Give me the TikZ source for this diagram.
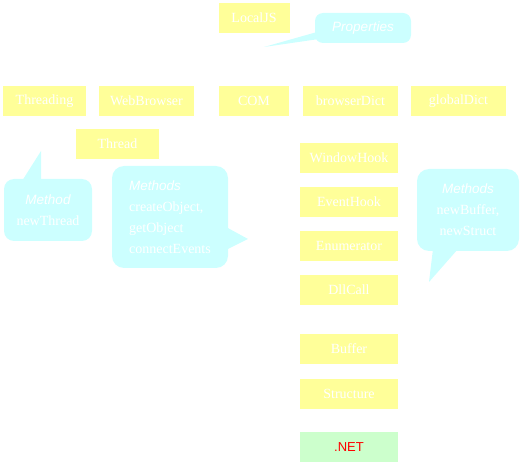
\documentclass[tikz,border=0pt]{standalone}
\usepackage{fontspec}
\setmainfont{Liberation Serif}
\newfontfamily\notesf{Liberation Sans}
\usepackage{tikz}
\usetikzlibrary{positioning}
\definecolor{jsyellow}{HTML}{FFFF99}
\definecolor{jscyan}{HTML}{CCFFFF}
\definecolor{jsgreen}{HTML}{CCFFCC}
\definecolor{jsred}{HTML}{FF0000}
\newcommand{\notehead}[1]{{\notesf\itshape\fontsize{13.5}{21}\selectfont #1}}

\begin{document}
\begin{tikzpicture}[x=1pt, y=-1pt,
  modbox/.style={rectangle, fill=jsyellow, text=white, minimum height=30pt,
    inner sep=0pt, outer sep=0pt, font=\fontsize{14}{17}\selectfont},
  netbox/.style={modbox, fill=jsgreen, text=jsred, font=\notesf\fontsize{13}{16}\selectfont},
  notebox/.style={rectangle, fill=jscyan, text=white, rounded corners=12pt,
    inner sep=0pt, outer sep=0pt, font=\fontsize{14}{21}\selectfont},
  pointer/.style={fill=jscyan},
  node distance=14pt and 13pt,
]
  \useasboundingbox (0,0) rectangle (523,476);

  \node[modbox, minimum width=83pt] (threading) at (44.5,101) {Threading};
  \node[modbox, minimum width=95pt, right=of threading] (webbrowser) {WebBrowser};
  \node[modbox, minimum width=70pt, right=25pt of webbrowser] (com) {COM};
  \node[modbox, minimum width=95pt, right=14pt of com] (browserdict) {browserDict};
  \node[modbox, minimum width=95pt, right=of browserdict] (globaldict) {globalDict};
  \node[modbox, minimum width=71pt, above=53pt of com] (localjs) {LocalJS};
  \node[modbox, minimum width=83pt] (thread) at (117.5,144) {Thread};

  \node[modbox, minimum width=98pt] (windowhook) at (349,158) {WindowHook};
  \node[modbox, minimum width=98pt, below=of windowhook] (eventhook) {EventHook};
  \node[modbox, minimum width=98pt, below=of eventhook] (enumerator) {Enumerator};
  \node[modbox, minimum width=98pt, below=of enumerator] (dllcall) {DllCall};
  \node[modbox, minimum width=98pt, below=29pt of dllcall] (buffer) {Buffer};
  \node[modbox, minimum width=98pt, below=15pt of buffer] (structure) {Structure};
  \node[netbox, minimum width=98pt, below=23pt of structure] (dotnet) {.NET};

  \node[notebox, rounded corners=8pt, minimum width=96pt, minimum height=30pt]
    (props) at (363,28) {\notehead{Properties}};
  \coordinate (proptip) at (264,47);
  \fill[pointer] ([xshift=2pt,yshift=-4pt]props.west) -- (proptip)
    -- ([xshift=4pt,yshift=-11pt]props.west) -- cycle;

  \node[notebox, rounded corners=10pt, minimum width=88pt, minimum height=62pt, align=center]
    (newthread) at (48,210) {\notehead{Method}\\newThread};
  \coordinate (threadtip) at (41,151);
  \fill[pointer] ([xshift=-26pt,yshift=-2pt]newthread.north) -- (threadtip)
    -- ([xshift=-7pt,yshift=-2pt]newthread.north) -- cycle;

  \node[notebox, minimum width=116pt, minimum height=102pt, align=left]
    (comnote) at (170,217) {\notehead{Methods}\\createObject,\\getObject\\connectEvents};
  \coordinate (comtip) at (248,239);
  \fill[pointer] ([xshift=-2pt,yshift=-10pt]comnote.east) -- (comtip)
    -- ([xshift=-2pt,yshift=-33pt]comnote.east) -- cycle;

  \node[notebox, minimum width=102pt, minimum height=82pt, align=center]
    (bufnote) at (468,210) {\notehead{Methods}\\newBuffer,\\newStruct};
  \coordinate (buftip) at (429,282);
  \fill[pointer] ([xshift=-35pt,yshift=2pt]bufnote.south) -- (buftip)
    -- ([xshift=-10pt,yshift=2pt]bufnote.south) -- cycle;
\end{tikzpicture}
\end{document}
